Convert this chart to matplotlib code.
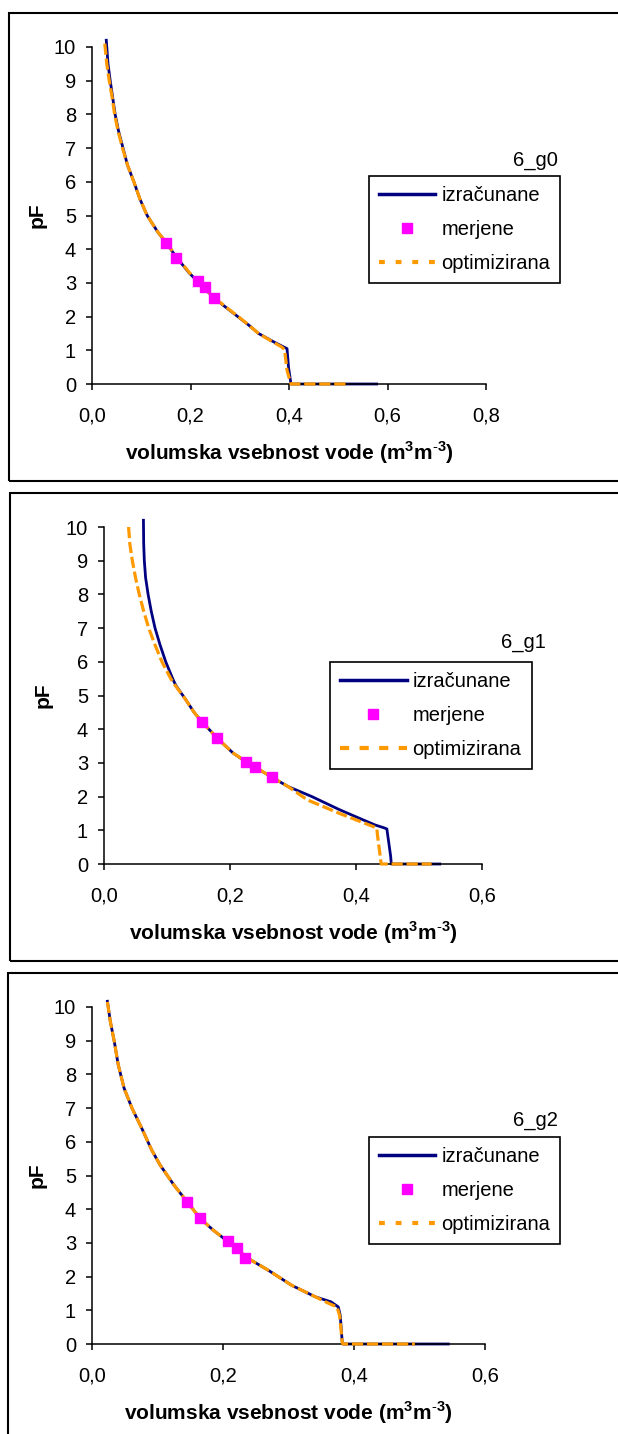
import matplotlib
matplotlib.use('Agg')
import matplotlib.pyplot as plt
from matplotlib.lines import Line2D
from matplotlib.patches import Rectangle
from matplotlib.ticker import FuncFormatter, MultipleLocator

plt.rcParams['font.family'] = ['Liberation Sans', 'DejaVu Sans']
plt.rcParams['mathtext.fontset'] = 'custom'
plt.rcParams['mathtext.rm'] = 'Liberation Sans'
plt.rcParams['mathtext.bf'] = 'Liberation Sans:bold'

# --- data (volumetric water content vs pF) ---
g0_calc_theta = [0.029, 0.0325, 0.037, 0.042, 0.047, 0.054, 0.063, 0.072, 0.085, 0.097, 0.112,
                 0.134, 0.150, 0.172, 0.197, 0.214, 0.247, 0.274, 0.296, 0.318, 0.338, 0.369,
                 0.389, 0.396, 0.399, 0.404, 0.578]
g0_calc_pf = [10.2, 9.5, 9.0, 8.5, 8.0, 7.5, 7.0, 6.5, 6.0, 5.5, 5.0,
              4.5, 4.2, 3.75, 3.3, 3.05, 2.56, 2.25, 2.0, 1.75, 1.5, 1.25,
              1.1, 1.05, 0.5, 0.0, 0.0]
g0_opt_theta = [0.026, 0.030, 0.035, 0.041, 0.046, 0.053, 0.062, 0.072, 0.085, 0.097, 0.112,
                0.134, 0.151, 0.173, 0.198, 0.215, 0.248, 0.275, 0.297, 0.318, 0.338, 0.367,
                0.385, 0.391, 0.392, 0.396, 0.404, 0.519]
g0_opt_pf = [10.1, 9.5, 9.0, 8.5, 8.0, 7.5, 7.0, 6.5, 6.0, 5.5, 5.0,
             4.5, 4.2, 3.75, 3.3, 3.05, 2.56, 2.25, 2.0, 1.75, 1.5, 1.25,
             1.1, 1.02, 0.9, 0.4, 0.0, 0.0]
g0_meas_theta = [0.151, 0.171, 0.215, 0.230, 0.247]
g0_meas_pf = [4.19, 3.75, 3.05, 2.87, 2.56]

g1_calc_theta = [0.0626, 0.063, 0.064, 0.066, 0.070, 0.075, 0.081, 0.089, 0.098, 0.109, 0.114,
                 0.130, 0.143, 0.155, 0.180, 0.205, 0.223, 0.267, 0.292, 0.330, 0.374, 0.405,
                 0.430, 0.445, 0.449, 0.455, 0.456, 0.533]
g1_calc_pf = [10.2, 9.5, 9.0, 8.5, 8.0, 7.5, 7.0, 6.5, 6.0, 5.5, 5.3,
              4.87, 4.5, 4.23, 3.73, 3.29, 3.06, 2.57, 2.30, 2.0, 1.61, 1.36,
              1.16, 1.07, 1.04, 0.23, 0.0, 0.0]
g1_opt_theta = [0.039, 0.041, 0.045, 0.050, 0.056, 0.063, 0.071, 0.081, 0.092, 0.106, 0.113,
                0.130, 0.143, 0.155, 0.180, 0.205, 0.224, 0.267, 0.292, 0.323, 0.374,
                0.433, 0.434, 0.440, 0.520]
g1_opt_pf = [10.0, 9.5, 9.0, 8.5, 8.0, 7.5, 7.0, 6.5, 6.0, 5.5, 5.3,
             4.87, 4.5, 4.23, 3.73, 3.29, 3.06, 2.57, 2.30, 1.9, 1.5,
             1.07, 0.87, 0.0, 0.0]
g1_meas_theta = [0.156, 0.179, 0.225, 0.239, 0.267]
g1_meas_pf = [4.2, 3.75, 3.04, 2.87, 2.57]

g2_calc_theta = [0.0235, 0.028, 0.034, 0.040, 0.049, 0.061, 0.076, 0.091, 0.104, 0.125, 0.146, 0.165,
                 0.185, 0.208, 0.221, 0.234, 0.269, 0.305, 0.341, 0.365, 0.376, 0.379, 0.382, 0.383, 0.544]
g2_calc_pf = [10.17, 9.57, 8.98, 8.29, 7.59, 7.0, 6.4, 5.76, 5.31, 4.72, 4.2, 3.73,
              3.38, 3.03, 2.85, 2.59, 2.19, 1.74, 1.40, 1.25, 1.10, 0.85, 0.06, 0.0, 0.0]
g2_opt_theta = [0.0235, 0.028, 0.034, 0.040, 0.049, 0.061, 0.076, 0.091, 0.104, 0.125, 0.146, 0.165,
                0.185, 0.208, 0.221, 0.234, 0.269, 0.305, 0.341, 0.362, 0.374, 0.378, 0.382, 0.383, 0.493]
g2_opt_pf = [10.15, 9.57, 8.98, 8.29, 7.59, 7.0, 6.4, 5.76, 5.31, 4.72, 4.2, 3.73,
             3.38, 3.03, 2.85, 2.59, 2.19, 1.74, 1.40, 1.2, 1.1, 0.85, 0.06, 0.0, 0.0]
g2_meas_theta = [0.145, 0.165, 0.208, 0.221, 0.234]
g2_meas_pf = [4.21, 3.73, 3.05, 2.86, 2.56]

names = ['6_g0', '6_g1', '6_g2']
labels = ['izračunane', 'merjene', 'optimizirana']

NAVY = '#000080'
ORANGE = '#FF9900'
MAGENTA = '#FF00FF'

W, H = 618, 1434
fig = plt.figure(figsize=(W / 100, H / 100), dpi=100)


def fx(px):
    return px / W


def fy(py):
    return 1 - py / H


# panel frames (pixel coords: left, top, bottom)
for left, top, bottom in [(9, 13, 481), (10, 493, 961), (8, 973, 1445)]:
    fig.patches.append(Rectangle((fx(left), fy(bottom)), fx(640 - left), (bottom - top) / H,
                                 transform=fig.transFigure, fill=False,
                                 edgecolor='black', linewidth=1.5))

panels = [
    # axes box, xmax, legend corner, handle length, title pos, ylabel x
    dict(box=(92, 47, 486, 384), xmax=0.8, leg=(369, 176), hl=2.8, title=(558, 161),
         calc=(g0_calc_theta, g0_calc_pf), opt=(g0_opt_theta, g0_opt_pf),
         meas=(g0_meas_theta, g0_meas_pf), ylab=37, dash=(1.4, 2.6)),
    dict(box=(104, 527, 482, 864), xmax=0.6, leg=(330, 662), hl=3.3, title=(546, 643),
         calc=(g1_calc_theta, g1_calc_pf), opt=(g1_opt_theta, g1_opt_pf),
         meas=(g1_meas_theta, g1_meas_pf), ylab=43, dash=(2.2, 2.5)),
    dict(box=(92, 1007, 485, 1344), xmax=0.6, leg=(369, 1137), hl=2.8, title=(558, 1121),
         calc=(g2_calc_theta, g2_calc_pf), opt=(g2_opt_theta, g2_opt_pf),
         meas=(g2_meas_theta, g2_meas_pf), ylab=37, dash=(1.4, 2.6)),
]

for name, p in zip(names, panels):
    l, t, r, b = p['box']
    ax = fig.add_axes([fx(l), fy(b), (r - l) / W, (b - t) / H])

    ax.plot(*p['calc'], color=NAVY, lw=2.0, clip_on=False, zorder=2)
    ax.plot(*p['opt'], color=ORANGE, lw=2.3, dashes=(3.5, 1.2), clip_on=False, zorder=3)
    ax.plot(*p['meas'], ls='none', marker='s', ms=7, color=MAGENTA, mec=MAGENTA,
            clip_on=False, zorder=4)

    ax.set_xlim(0, p['xmax'])
    ax.set_ylim(0, 10)
    ax.xaxis.set_major_locator(MultipleLocator(0.2))
    ax.yaxis.set_major_locator(MultipleLocator(1))
    ax.xaxis.set_major_formatter(FuncFormatter(lambda v, pos: f'{v:.1f}'.replace('.', ',')))
    ax.yaxis.set_major_formatter(FuncFormatter(lambda v, pos: f'{v:.0f}'))
    for s in ['top', 'right']:
        ax.spines[s].set_visible(False)
    for s in ['left', 'bottom']:
        ax.spines[s].set_linewidth(1.1)
    ax.tick_params(axis='y', direction='out', length=4.5, width=1.1, labelsize=14.5, pad=7)
    ax.tick_params(axis='x', direction='out', length=4, width=1.1, labelsize=14.5, pad=12)

    ax.set_xlabel(r'volumska vsebnost vode (m$^\mathbf{3}$m$^{\mathbf{\text{-}3}}$)',
                  fontsize=15, fontweight='bold', va='center')
    ax.xaxis.set_label_coords(0.5, -69 / (b - t))
    ax.set_ylabel('pF', fontsize=15, fontweight='bold', va='center')
    ax.yaxis.set_label_coords(-(l - p['ylab']) / (r - l), 0.5)

    handles = [
        Line2D([], [], color=NAVY, lw=2.5),
        Line2D([], [], ls='none', marker='s', ms=7, color=MAGENTA),
        Line2D([], [], color=ORANGE, lw=3, dashes=p['dash']),
    ]
    leg = ax.legend(handles, labels, loc='upper left',
                    bbox_to_anchor=(fx(p['leg'][0]), fy(p['leg'][1])),
                    bbox_transform=fig.transFigure, borderaxespad=0,
                    fontsize=14.5, frameon=True, fancybox=False, framealpha=1,
                    edgecolor='black', handlelength=p['hl'], handletextpad=0.3,
                    labelspacing=0.75, borderpad=0.5)
    leg.get_frame().set_linewidth(1.2)

    fig.text(fx(p['title'][0]), fy(p['title'][1]), name, fontsize=14.5,
             ha='right', va='center')

fig.savefig('out.png', dpi=100)
